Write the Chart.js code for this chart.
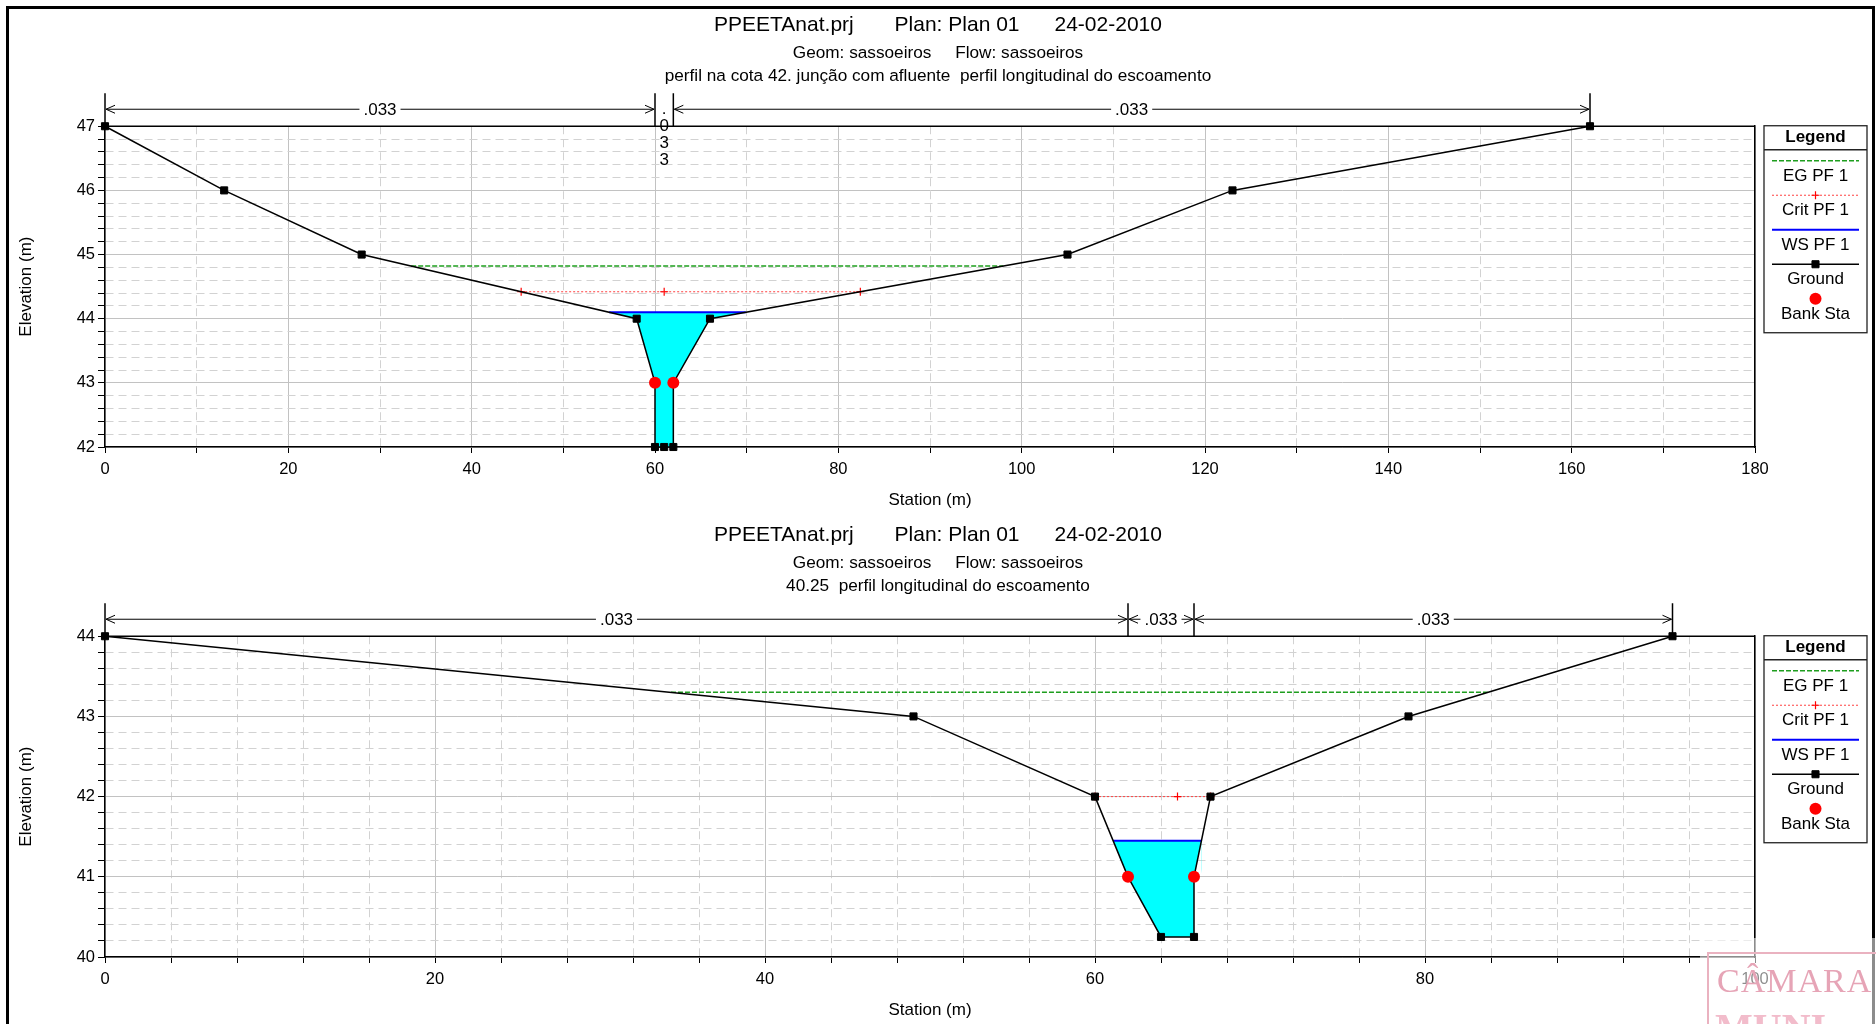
<!DOCTYPE html>
<html>
<head>
<meta charset="utf-8">
<script src="https://cdn.jsdelivr.net/npm/chart.js@4.4.0/dist/chart.umd.min.js"></script>
<style>
html, body { margin: 0; padding: 0; background: #fff; }
body { width: 1876px; height: 1024px; position: relative; overflow: hidden; font-family: "Liberation Sans", Arial, sans-serif; }
.panel { position: absolute; left: 0; width: 1876px; height: 512px; }
#frame { position: absolute; left: 6px; top: 6px; width: 1863px; height: 1100px; border: 3px solid #000; }
#stamp { position: absolute; left: 1700px; top: 938px; width: 176px; height: 86px; background: rgba(255,255,255,0.55); overflow: hidden; }
#stamp .sbox { position: absolute; left: 7px; top: 14px; width: 240px; height: 120px; border: 2px solid #eab2c0; }
#stamp .s1 { position: absolute; left: 8px; top: 8px; font: 34px "Liberation Serif", serif; color: #e6a4b6; letter-spacing: 1px; white-space: nowrap; }
#stamp .s2 { position: absolute; left: 6px; top: 50px; font: bold 40px "Liberation Serif", serif; color: #f2bccb; white-space: nowrap; filter: blur(0.6px); }
</style>
</head>
<body>
<div id="frame"></div>
<div class="panel" style="top:0px"><canvas id="chartUpper" width="1876" height="512"></canvas></div>
<div class="panel" style="top:510px"><canvas id="chartLower" width="1876" height="512"></canvas></div>
<div id="stamp"><div class="sbox"><span class="s1">CÂMARA M</span><span class="s2">MUNI</span></div></div>
<script>
const FONT = '"Liberation Sans", Arial, Helvetica, sans-serif';
Chart.defaults.font.family = FONT;
Chart.defaults.color = '#000';

const titleText = 'PPEETAnat.prj       Plan: Plan 01      24-02-2010';
const geomFlowText = 'Geom: sassoeiros     Flow: sassoeiros';

// upper section: perfil na cota 42
const reachUpper = 'perfil na cota 42. junção com afluente  perfil longitudinal do escoamento';
const groundStaUpper = [0, 13, 28, 58, 60, 60, 61, 62, 62, 66, 105, 123, 162];
const groundElevUpper = [47, 46, 45, 44, 43, 42, 42, 42, 43, 44, 45, 46, 47];
const bankStaUpper = [60, 62];
const bankElevUpper = [43, 43];
const wsStaUpper = [55, 69.9];
const wsElevUpper = [44.1, 44.1];
const critStaUpper = [45.4, 61, 82.4];
const critElevUpper = [44.42, 44.42, 44.42];
const egStaUpper = [33.4, 98];
const egElevUpper = [44.82, 44.82];
const nStaUpper = [0, 60, 62, 162];
const nValUpper = ['.033', '.033', '.033'];

// lower section: 40.25
const reachLower = '40.25  perfil longitudinal do escoamento';
const groundStaLower = [0, 49, 60, 62, 64, 66, 66, 67, 79, 95];
const groundElevLower = [44, 43, 42, 41, 40.25, 40.25, 41, 42, 43, 44];
const bankStaLower = [62, 66];
const bankElevLower = [41, 41];
const wsStaLower = [61.1, 66.45];
const wsElevLower = [41.45, 41.45];
const critStaLower = [60, 65, 67];
const critElevLower = [42, 42, 42];
const egStaLower = [34.3, 83.8];
const egElevLower = [43.3, 43.3];
const nStaLower = [0, 62, 66, 95];
const nValLower = ['.033', '.033', '.033'];

function toPoints(xs, ys) {
    return xs.map((x, i) => ({ x: x, y: ys[i] }));
}

function isStep(v, step) {
    return Math.abs(v / step - Math.round(v / step)) < 1e-6;
}

// Manning n bands above the plot
const nValuePlugin = {
    id: 'nValues',
    afterDraw(chart, args, opts) {
        const { ctx, chartArea } = chart;
        const xScale = chart.scales.x;
        const y = chartArea.top - 17;
        const px = opts.stations.map(s => xScale.getPixelForValue(s));
        ctx.save();
        ctx.strokeStyle = '#000';
        ctx.fillStyle = '#000';
        ctx.lineWidth = 1.5;
        ctx.beginPath();
        ctx.moveTo(chartArea.left, chartArea.top);
        ctx.lineTo(chartArea.right, chartArea.top);
        px.forEach(p => { ctx.moveTo(p, y - 16); ctx.lineTo(p, chartArea.top); });
        ctx.stroke();

        ctx.lineWidth = 1;
        ctx.font = '17px ' + FONT;
        ctx.textAlign = 'center';
        ctx.textBaseline = 'middle';
        for (let i = 0; i < opts.values.length; i++) {
            const a = px[i] + 1, b = px[i + 1] - 1;
            const txt = opts.values[i];
            const w = ctx.measureText(txt).width;
            const mid = (px[i] + px[i + 1]) / 2;
            if (b - a > w + 20) {
                ctx.beginPath();
                ctx.moveTo(a, y); ctx.lineTo(mid - w / 2 - 4, y);
                ctx.moveTo(mid + w / 2 + 4, y); ctx.lineTo(b, y);
                ctx.moveTo(a + 9, y - 4); ctx.lineTo(a, y); ctx.lineTo(a + 9, y + 4);
                ctx.moveTo(b - 9, y - 4); ctx.lineTo(b, y); ctx.lineTo(b - 9, y + 4);
                ctx.stroke();
                ctx.fillText(txt, mid, y + 1);
            } else {
                txt.split('').forEach((ch, k) => ctx.fillText(ch, mid, y + k * 17));
            }
        }
        ctx.restore();
    }
};

function drawMarker(ctx, ds, x, y) {
    const r = ds.pointRadius;
    if (!r) return;
    ctx.fillStyle = ds.pointBackgroundColor || ds.pointBorderColor;
    ctx.strokeStyle = ds.pointBorderColor;
    ctx.lineWidth = ds.pointBorderWidth || 1;
    ctx.setLineDash([]);
    ctx.beginPath();
    if (ds.pointStyle === 'rect') {
        const s = r * Math.SQRT1_2;
        ctx.rect(x - s, y - s, 2 * s, 2 * s);
        ctx.fill(); ctx.stroke();
    } else if (ds.pointStyle === 'cross') {
        ctx.moveTo(x - r, y); ctx.lineTo(x + r, y);
        ctx.moveTo(x, y - r); ctx.lineTo(x, y + r);
        ctx.stroke();
    } else {
        ctx.arc(x, y, r, 0, Math.PI * 2);
        ctx.fill();
    }
}

const legendPlugin = {
    id: 'hecLegend',
    afterDraw(chart) {
        const { ctx, chartArea } = chart;
        const x0 = chartArea.right + 9, w = 103, h = 207, y0 = chartArea.top - 0.5;
        const cx = x0 + w / 2;
        ctx.save();
        ctx.strokeStyle = '#222';
        ctx.lineWidth = 1.3;
        ctx.strokeRect(x0, y0, w, h);
        ctx.beginPath();
        ctx.moveTo(x0, y0 + 24); ctx.lineTo(x0 + w, y0 + 24);
        ctx.stroke();
        ctx.fillStyle = '#000';
        ctx.textAlign = 'center';
        ctx.textBaseline = 'middle';
        ctx.font = 'bold 17px ' + FONT;
        ctx.fillText('Legend', cx, y0 + 12);

        const rows = chart.data.datasets.slice().reverse();
        rows.forEach((ds, i) => {
            const ly = y0 + 35 + i * 34.5;
            if (ds.showLine) {
                ctx.strokeStyle = ds.borderColor;
                ctx.lineWidth = ds.borderWidth;
                ctx.setLineDash(ds.borderDash || []);
                ctx.beginPath();
                ctx.moveTo(x0 + 8, ly); ctx.lineTo(x0 + w - 8, ly);
                ctx.stroke();
                ctx.setLineDash([]);
            }
            drawMarker(ctx, ds, cx, ly);
            ctx.fillStyle = '#000';
            ctx.font = '17px ' + FONT;
            ctx.fillText(ds.label, cx, ly + 15.5);
        });
        ctx.restore();
    }
};

function buildChart(id, d) {
    const ctx = document.getElementById(id).getContext('2d');
    return new Chart(ctx, {
        type: 'scatter',
        data: {
            datasets: [
                { label: 'Bank Sta', data: toPoints(d.bankSta, d.bankElev), showLine: false,
                  pointStyle: 'circle', pointRadius: 6, pointBackgroundColor: '#ff0000',
                  pointBorderColor: '#ff0000', pointBorderWidth: 0, clip: false },
                { label: 'Ground', data: toPoints(d.groundSta, d.groundElev), showLine: true,
                  borderColor: '#000', borderWidth: 1.5, pointStyle: 'rect', pointRadius: 5,
                  pointBackgroundColor: '#000', pointBorderColor: '#000', pointBorderWidth: 1, clip: false },
                { label: 'WS PF 1', data: toPoints(d.wsSta, d.wsElev), showLine: true,
                  borderColor: '#0000ff', borderWidth: 2, pointRadius: 0, backgroundColor: '#00ffff',
                  fill: { target: 1, above: '#00ffff', below: '#00ffff' } },
                { label: 'Crit PF 1', data: toPoints(d.critSta, d.critElev), showLine: true,
                  borderColor: '#ff4040', borderWidth: 1, borderDash: [2, 2], pointStyle: 'cross',
                  pointRadius: 4, pointBorderColor: '#ff0000', pointBorderWidth: 1.2 },
                { label: 'EG PF 1', data: toPoints(d.egSta, d.egElev), showLine: true,
                  borderColor: '#1e9e1e', borderWidth: 1.5, borderDash: [5, 2], pointRadius: 0 }
            ]
        },
        options: {
            responsive: false,
            animation: false,
            events: [],
            layout: { padding: 0 },
            plugins: {
                legend: { display: false },
                tooltip: { enabled: false },
                title: { display: true, text: d.title, color: '#000',
                         font: { size: 21, weight: 'normal', lineHeight: 1.2 }, padding: { top: 12.5, bottom: 3 } },
                subtitle: { display: true, text: d.sub, color: '#000',
                            font: { size: 17.2, lineHeight: 1.35 }, padding: { top: 0.7, bottom: 38.4 } },
                nValues: { stations: d.nSta, values: d.nVal }
            },
            scales: {
                x: {
                    type: 'linear', position: 'bottom', min: 0, max: d.xMax,
                    afterFit: s => { s.height = 65; },
                    ticks: { stepSize: d.xStep, autoSkip: false, maxRotation: 0, color: '#000',
                             font: { size: 16.5 }, padding: 7,
                             callback: v => isStep(v, 20) ? String(v) : '' },
                    grid: { color: c => (c.tick && isStep(c.tick.value, 20)) ? '#c2c2c2' : '#d2d2d2',
                            lineWidth: 1, tickLength: 6, tickColor: '#000', tickWidth: 1 },
                    border: { color: '#000', width: 1.5,
                              dash: c => (c.tick && !isStep(c.tick.value, 20)) ? [8, 5] : [] },
                    title: { display: true, text: 'Station (m)', color: '#000', font: { size: 17 },
                             padding: { top: 0, bottom: 1 } }
                },
                y: {
                    type: 'linear', position: 'left', min: d.yMin, max: d.yMax,
                    afterFit: s => { s.width = 105; },
                    ticks: { stepSize: 0.2, autoSkip: false, color: '#000', font: { size: 16.5 }, padding: 3,
                             callback: v => isStep(v, 1) ? String(Math.round(v)) : '' },
                    grid: { color: c => (c.tick && isStep(c.tick.value, 1)) ? '#c2c2c2' : '#d2d2d2',
                            lineWidth: 1, tickLength: 7, tickColor: '#000', tickWidth: 1 },
                    border: { color: '#000', width: 1.5,
                              dash: c => (c.tick && !isStep(c.tick.value, 1)) ? [8, 5] : [] },
                    title: { display: true, text: 'Elevation (m)', color: '#000', font: { size: 17 },
                             padding: { top: 16, bottom: 0 } }
                },
                yRight: {
                    type: 'linear', position: 'right', min: 0, max: 1,
                    afterFit: s => { s.width = 121; },
                    ticks: { display: false },
                    grid: { display: false },
                    border: { display: true, color: '#000', width: 1.5 }
                }
            }
        },
        plugins: [nValuePlugin, legendPlugin]
    });
}

buildChart('chartUpper', {
    title: titleText, sub: [geomFlowText, reachUpper],
    xMax: 180, xStep: 10, yMin: 42, yMax: 47,
    groundSta: groundStaUpper, groundElev: groundElevUpper,
    bankSta: bankStaUpper, bankElev: bankElevUpper,
    wsSta: wsStaUpper, wsElev: wsElevUpper,
    critSta: critStaUpper, critElev: critElevUpper,
    egSta: egStaUpper, egElev: egElevUpper,
    nSta: nStaUpper, nVal: nValUpper
});

buildChart('chartLower', {
    title: titleText, sub: [geomFlowText, reachLower],
    xMax: 100, xStep: 4, yMin: 40, yMax: 44,
    groundSta: groundStaLower, groundElev: groundElevLower,
    bankSta: bankStaLower, bankElev: bankElevLower,
    wsSta: wsStaLower, wsElev: wsElevLower,
    critSta: critStaLower, critElev: critElevLower,
    egSta: egStaLower, egElev: egElevLower,
    nSta: nStaLower, nVal: nValLower
});
</script>
</body>
</html>
